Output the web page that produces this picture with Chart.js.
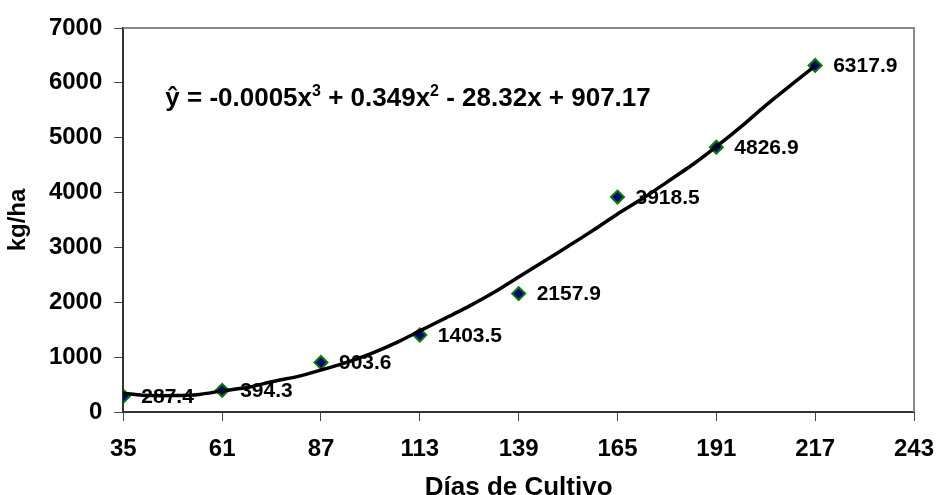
<!DOCTYPE html>
<html>
<head>
<meta charset="utf-8">
<script src="https://cdn.jsdelivr.net/npm/chart.js@4"></script>
<style>
  body { margin: 0; background: #fff; }
  #wrap { width: 938px; height: 495px; }
</style>
</head>
<body>
<div id="wrap"><canvas id="c"></canvas></div>
<script>
// measured days and yields
const days = [35, 61, 87, 113, 139, 165, 191, 217];
const yields = [287.4, 394.3, 903.6, 1403.5, 2157.9, 3918.5, 4826.9, 6317.9];

// trendline
const trendDays = [35, 40, 48, 55, 61, 68, 74, 81, 87, 94, 100, 107, 113, 120, 126,
  133, 139, 146, 152, 159, 165, 172, 178, 185, 191, 198, 204, 211, 217];
const trendYields = [340, 305, 300, 320, 385, 450, 550, 650, 766, 910, 1060, 1270, 1480, 1720, 1930,
  2200, 2460, 2760, 3020, 3330, 3610, 3910, 4190, 4520, 4836, 5230, 5590, 5980, 6310];

const xTicks = [35, 61, 87, 113, 139, 165, 191, 217, 243];
const yTicks = [0, 1000, 2000, 3000, 4000, 5000, 6000, 7000];

const FONT = '"Liberation Sans", Arial, sans-serif';

const pointLabels = {
  id: 'pointLabels',
  afterDatasetDraw(chart, args) {
    if (args.index !== 1) return;
    const ctx = chart.ctx;
    ctx.save();
    ctx.font = 'bold 21px ' + FONT;
    ctx.fillStyle = '#000';
    ctx.textBaseline = 'middle';
    args.meta.data.forEach((pt, i) => {
      ctx.fillText(yields[i].toFixed(1), pt.x + 18, pt.y + 1);
    });
    ctx.restore();
  }
};

const frame = {
  id: 'frame',
  beforeDatasetsDraw(chart) {
    const { ctx, chartArea: a } = chart;
    ctx.save();
    ctx.strokeStyle = '#888';
    ctx.lineWidth = 2;
    ctx.beginPath();
    ctx.moveTo(a.left, a.top);
    ctx.lineTo(a.right, a.top);
    ctx.lineTo(a.right, a.bottom);
    ctx.stroke();
    ctx.restore();
  },
  afterDraw(chart) {
    const { ctx, chartArea: a } = chart;
    ctx.save();
    ctx.fillStyle = '#000';
    ctx.textBaseline = 'alphabetic';
    let x = a.left + 42;
    const y = 106;
    const parts = [
      ['ŷ = -0.0005x', false], ['3', true], [' + 0.349x', false], ['2', true],
      [' - 28.32x + 907.17', false]
    ];
    parts.forEach(([t, sup]) => {
      ctx.font = sup ? 'bold 16px ' + FONT : 'bold 26px ' + FONT;
      ctx.fillText(t, x, sup ? y - 10 : y);
      x += ctx.measureText(t).width;
    });
    ctx.restore();
  }
};

new Chart(document.getElementById('c'), {
  data: {
    datasets: [
      {
        type: 'line',
        data: trendDays.map((d, i) => ({ x: d, y: trendYields[i] })),
        borderColor: '#000',
        borderWidth: 3.5,
        pointRadius: 0,
        tension: 0.2,
        fill: false
      },
      {
        type: 'scatter',
        data: days.map((d, i) => ({ x: d, y: yields[i] })),
        pointStyle: 'rectRot',
        pointRadius: 6.5,
        pointBackgroundColor: '#000080',
        pointBorderColor: '#008000',
        pointBorderWidth: 2
      }
    ]
  },
  options: {
    responsive: true,
    maintainAspectRatio: false,
    animation: false,
    layout: { padding: { top: 28, right: 24, left: 0, bottom: 0 } },
    plugins: { legend: { display: false }, tooltip: { enabled: false } },
    scales: {
      x: {
        type: 'linear',
        min: 35,
        max: 243,
        afterBuildTicks: s => { s.ticks = xTicks.map(v => ({ value: v })); },
        afterFit: s => { s.height = 83; s.paddingLeft = 0; s.paddingRight = 0; },
        grid: { drawOnChartArea: false, tickLength: 9, color: '#444', lineWidth: 1 },
        border: { color: '#333', width: 2 },
        ticks: { color: '#000', font: { family: FONT, size: 24, weight: 'bold' }, padding: 14, maxRotation: 0 },
        title: { display: true, text: 'Días de Cultivo', color: '#000', font: { family: FONT, size: 26, weight: 'bold' }, padding: { top: 0, bottom: -8 } }
      },
      y: {
        min: 0,
        max: 7000,
        afterBuildTicks: s => { s.ticks = yTicks.map(v => ({ value: v })); },
        afterFit: s => { s.width = 123.3; },
        grid: { drawOnChartArea: false, tickLength: 9, color: '#444', lineWidth: 1 },
        border: { color: '#333', width: 2 },
        ticks: { color: '#000', font: { family: FONT, size: 24, weight: 'bold' }, padding: 12, callback: v => String(v) },
        title: { display: true, text: 'kg/ha', color: '#000', font: { family: FONT, size: 24, weight: 'bold' }, padding: { top: 4, bottom: 0 } }
      }
    }
  },
  plugins: [frame, pointLabels]
});
</script>
</body>
</html>
